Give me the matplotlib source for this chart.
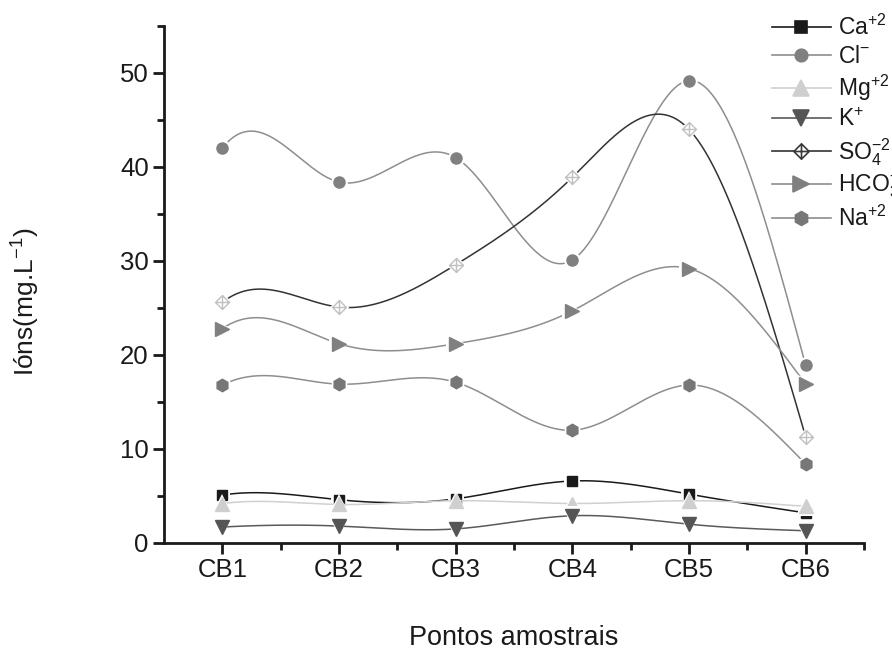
import numpy as np
import matplotlib
matplotlib.use("Agg")
import matplotlib.pyplot as plt
from matplotlib.path import Path
from matplotlib.lines import Line2D
from matplotlib import font_manager

categories = ["CB1", "CB2", "CB3", "CB4", "CB5", "CB6"]
ca = [5.1, 4.6, 4.7, 6.6, 5.2, 3.2]
cl = [42.0, 38.4, 41.0, 30.1, 49.2, 18.9]
mg = [4.2, 4.1, 4.5, 4.2, 4.5, 3.9]
k = [1.7, 1.8, 1.5, 2.9, 2.0, 1.3]
so4 = [25.6, 25.1, 29.6, 38.9, 44.0, 11.3]
hco3 = [22.8, 21.2, 21.2, 24.7, 29.2, 16.9]
na = [16.8, 16.9, 17.1, 12.0, 16.8, 8.4]
labels = [r"Ca$^{+2}$", r"Cl$^{-}$", r"Mg$^{+2}$", r"K$^{+}$",
          r"SO$_4^{-2}$", r"HCO$_3^{-}$", r"Na$^{+2}$"]

names = {f.name for f in font_manager.fontManager.ttflist}
base = "Liberation Sans" if "Liberation Sans" in names else "DejaVu Sans"
plt.rcParams["font.family"] = [base, "DejaVu Sans"]
plt.rcParams["mathtext.fontset"] = "custom"
plt.rcParams["mathtext.rm"] = base
plt.rcParams["mathtext.it"] = base
plt.rcParams["mathtext.bf"] = base


def spline_curve(x, y, xs, start_slope):
    """Cubic spline: clamped first derivative at start, natural at end."""
    x = np.asarray(x, float)
    y = np.asarray(y, float)
    n = len(x)
    h = np.diff(x)
    A = np.zeros((n, n))
    b = np.zeros(n)
    A[0, 0] = 2 * h[0]
    A[0, 1] = h[0]
    b[0] = 6 * ((y[1] - y[0]) / h[0] - start_slope)
    A[-1, -1] = 1
    for i in range(1, n - 1):
        A[i, i - 1] = h[i - 1]
        A[i, i] = 2 * (h[i - 1] + h[i])
        A[i, i + 1] = h[i]
        b[i] = 6 * ((y[i + 1] - y[i]) / h[i] - (y[i] - y[i - 1]) / h[i - 1])
    M = np.linalg.solve(A, b)
    idx = np.clip(np.searchsorted(x, xs) - 1, 0, n - 2)
    x0, x1 = x[idx], x[idx + 1]
    hh = x1 - x0
    t0 = x1 - xs
    t1 = xs - x0
    return (M[idx] * t0 ** 3 / (6 * hh) + M[idx + 1] * t1 ** 3 / (6 * hh)
            + (y[idx] / hh - M[idx] * hh / 6) * t0
            + (y[idx + 1] / hh - M[idx + 1] * hh / 6) * t1)


# diamond with cross marker
verts = [(0, 1), (1, 0), (0, -1), (-1, 0), (0, 1),
         (0, 1), (0, -1), (-1, 0), (1, 0)]
codes = [Path.MOVETO, Path.LINETO, Path.LINETO, Path.LINETO, Path.CLOSEPOLY,
         Path.MOVETO, Path.LINETO, Path.MOVETO, Path.LINETO]
diamond_cross = Path(verts, codes)

fig = plt.figure(figsize=(8.92, 6.54), dpi=100)
ax = fig.add_axes([164 / 892, 1 - 543 / 654, 700 / 892, 517 / 654])

x = np.arange(1, len(categories) + 1)
xs = np.linspace(1, len(categories), 500)

series = [
    # data, line color, marker, face, edge, size, legend edge
    (ca, "#1a1a1a", "s", "#1a1a1a", "#1a1a1a", 7, "#1a1a1a"),
    (cl, "#8e8e8e", "o", "#808080", "#808080", 8, "#808080"),
    (mg, "#d0d0d0", "^", "#cfcfcf", "#cfcfcf", 10, "#cfcfcf"),
    (k, "#5a5a5a", "v", "#555555", "#555555", 10, "#555555"),
    (so4, "#333333", diamond_cross, "white", "#c0c0c0", 10, "#3a3a3a"),
    (hco3, "#8e8e8e", ">", "#808080", "#808080", 10, "#808080"),
    (na, "#8e8e8e", "h", "#777777", "#777777", 9, "#777777"),
]

handles = []
for i, (vals, lc, mk, fc, ec, ms, lec) in enumerate(series):
    z = 2 + i * 0.1
    ys = spline_curve(x, vals, xs, 0.38 * vals[0])
    ax.plot(xs, ys, color=lc, lw=1.1, zorder=z)
    ax.plot(x, vals, ls="none", marker=mk, ms=ms + 4, mfc="white",
            mec="white", mew=0, zorder=z + 0.01)
    ax.plot(x, vals, ls="none", marker=mk, ms=ms, mfc=fc, mec=ec,
            mew=1.0, zorder=z + 0.02)
    handles.append(Line2D([], [], color=lc, lw=1.2, marker=mk, ms=ms + 1,
                          mfc=fc, mec=lec, mew=1.2))

ax.set_xlim(0.5, 6.5)
ax.set_ylim(0, 55)
ax.set_xticks(x)
ax.set_xticklabels(categories, fontsize=18.5)
ax.set_xticks(np.arange(1.5, 6.6, 1), minor=True)
ax.set_yticks(np.arange(0, 51, 10))
ax.set_yticklabels([str(v) for v in range(0, 51, 10)], fontsize=18.5)
ax.set_yticks(np.arange(5, 56, 10), minor=True)

for s in ["top", "right"]:
    ax.spines[s].set_visible(False)
for s in ["left", "bottom"]:
    ax.spines[s].set_linewidth(2.0)
    ax.spines[s].set_color("#1a1a1a")
ax.tick_params(which="major", direction="out", length=8, width=2.0,
               color="#1a1a1a", pad=3, labelcolor="#1a1a1a")
ax.tick_params(which="minor", direction="out", length=5, width=2.0,
               color="#1a1a1a")

fig.text(514 / 892, 1 - 638 / 654, "Pontos amostrais", ha="center",
         va="center", fontsize=19.5, color="#1a1a1a")
fig.text(26 / 892, 1 - 302 / 654, "Ións(mg.L$^{-1}$)", rotation=90,
         ha="center", va="center", fontsize=19, color="#1a1a1a")

leg = fig.legend(handles, labels, loc="upper left",
                 bbox_to_anchor=(767 / 892, 1 - 10 / 654),
                 frameon=False, fontsize=16.5, handlelength=2.6,
                 handletextpad=0.3, labelspacing=0.22, borderpad=0.2,
                 borderaxespad=0)
for t in leg.get_texts():
    t.set_color("#1a1a1a")

fig.savefig("out.png", dpi=100)
